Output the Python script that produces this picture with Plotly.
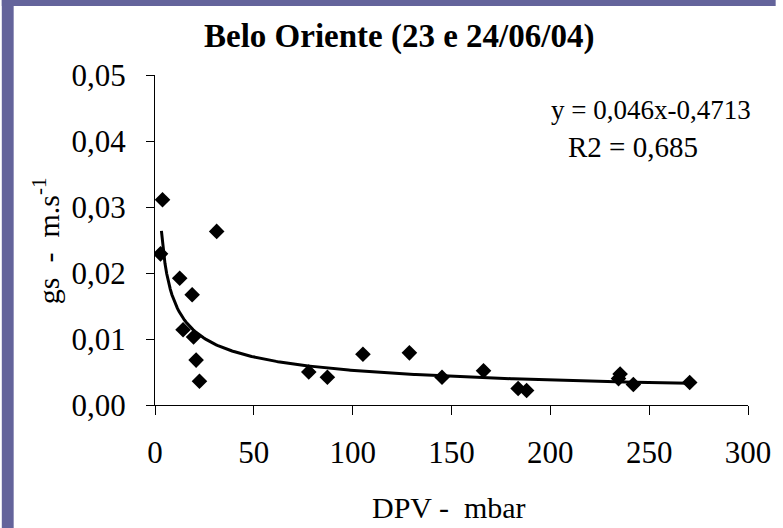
import numpy as np
import plotly.graph_objects as go

# Vapour pressure deficit (mbar) and stomatal conductance (m/s)
dpv = [2.8, 3.8, 12.5, 14.2, 18.8, 19.5, 20.8, 22.5, 31.2,
       77.8, 87.2, 105.2, 128.7, 145.2, 166.2, 183.7, 188.0,
       234.5, 235.3, 242.0, 270.5]
gs = [0.0229, 0.0311, 0.0192, 0.0114, 0.0167, 0.0103, 0.0068, 0.0036, 0.0263,
      0.0050, 0.0042, 0.0077, 0.0079, 0.0042, 0.0052, 0.0025, 0.0022,
      0.0040, 0.0047, 0.0031, 0.0034]

# Power trend y = a * x^b, drawn across the measured DPV span
coef_a = 0.046
coef_b = -0.4713
r2 = 0.685
trend_x_start = 3.25

x_ticks = [0, 50, 100, 150, 200, 250, 300]
x_tick_text = ["0", "50", "100", "150", "200", "250", "300"]
y_ticks = [0.0, 0.01, 0.02, 0.03, 0.04, 0.05]
y_tick_text = ["0,00", "0,01", "0,02", "0,03", "0,04", "0,05"]

W, H = 783, 528
L, R, T, B = 155, 28, 75, 123
PW, PH = W - L - R, H - T - B

FONT = "Liberation Serif"
FRAME = "#64649b"

xs = np.linspace(trend_x_start, max(dpv), 300)
trend = coef_a * xs ** coef_b


def px_x(p):
    return (p - L) / PW


def px_y(p):
    return (H - B - p) / PH


fig = go.Figure()
fig.add_trace(go.Scatter(
    x=xs, y=trend, mode="lines",
    line=dict(color="black", width=3), hoverinfo="skip", showlegend=False))
fig.add_trace(go.Scatter(
    x=dpv, y=gs, mode="markers",
    marker=dict(symbol="diamond", size=12, color="black"),
    showlegend=False))

axis_common = dict(
    showgrid=False, zeroline=False, showline=True, linecolor="black",
    linewidth=1, ticks="outside", tickcolor="black", tickwidth=1,
    tickfont=dict(family=FONT, size=31, color="black"),
)

fig.update_xaxes(range=[0, 300], tickvals=x_ticks, ticktext=x_tick_text,
                 ticklen=9, ticklabelstandoff=11, **axis_common)
fig.update_yaxes(range=[0, 0.05], tickvals=y_ticks, ticktext=y_tick_text,
                 ticklen=8, ticklabelstandoff=14, **axis_common)

# purple frame strips along the left and top edges
shapes = [
    dict(type="rect", xref="paper", yref="paper",
         x0=px_x(0), x1=px_x(12), y0=px_y(H), y1=px_y(0),
         fillcolor=FRAME, line=dict(width=0), layer="above"),
    dict(type="rect", xref="paper", yref="paper",
         x0=px_x(0), x1=px_x(W), y0=px_y(6), y1=px_y(0),
         fillcolor=FRAME, line=dict(width=0), layer="above"),
]

annotations = [
    dict(text="<b>Belo Oriente (23 e 24/06/04)</b>", xref="paper", yref="paper",
         x=px_x(402), y=px_y(36), showarrow=False,
         font=dict(family=FONT, size=33, color="black"),
         xanchor="center", yanchor="middle"),
    dict(text="y = 0,046x-0,4713", xref="paper", yref="paper",
         x=px_x(657), y=px_y(110), showarrow=False,
         font=dict(family=FONT, size=27, color="black"),
         xanchor="center", yanchor="middle"),
    dict(text=f"R2 = {str(r2).replace('.', ',')}", xref="paper", yref="paper",
         x=px_x(639), y=px_y(147), showarrow=False,
         font=dict(family=FONT, size=29, color="black"),
         xanchor="center", yanchor="middle"),
    dict(text="DPV -  mbar", xref="paper", yref="paper",
         x=px_x(452), y=px_y(508), showarrow=False,
         font=dict(family=FONT, size=30, color="black"),
         xanchor="center", yanchor="middle"),
    dict(text="gs  -  m.s<sup>-1</sup>", xref="paper", yref="paper",
         x=px_x(45), y=px_y(241), showarrow=False, textangle=-90,
         font=dict(family=FONT, size=30, color="black"),
         xanchor="center", yanchor="middle"),
]

fig.update_layout(
    width=W, height=H,
    margin=dict(l=L, r=R, t=T, b=B, pad=0),
    paper_bgcolor="white", plot_bgcolor="white",
    shapes=shapes, annotations=annotations,
)

fig.write_html("out.html")
